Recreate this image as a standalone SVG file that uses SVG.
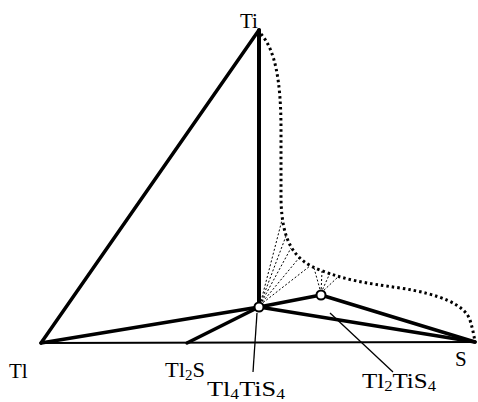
<svg xmlns="http://www.w3.org/2000/svg" width="478" height="402" viewBox="0 0 478 402">
<style>
.thick{stroke:#000;stroke-width:3.5;fill:none;stroke-linecap:round}
.base{stroke:#000;stroke-width:2;fill:none}
.dot{stroke:#000;stroke-width:3;fill:none;stroke-dasharray:2.5 3}
.fan{stroke:#000;stroke-width:1;fill:none;stroke-dasharray:2 2}
.ptr{stroke:#000;stroke-width:1.3;fill:none}
.lbl{font-family:"Liberation Serif","Times New Roman",serif;font-size:21px;fill:#000}
.pt{fill:#fff;stroke:#000;stroke-width:2}
</style>
<rect width="478" height="402" fill="#fff"/>
<g id="connectors">
<line class="base" x1="41" y1="343" x2="475" y2="342"/>
<line class="thick" x1="41" y1="343" x2="259" y2="30"/>
<line class="thick" x1="259" y1="30" x2="259" y2="307" style="stroke-width:4"/>
<line class="thick" x1="41" y1="343" x2="259" y2="307"/>
<line class="thick" x1="187" y1="343" x2="259" y2="307"/>
<line class="thick" x1="259" y1="307" x2="475" y2="342"/>
<line class="thick" x1="259" y1="307" x2="321" y2="295"/>
<line class="thick" x1="321" y1="295" x2="475" y2="342"/>
<path class="dot" d="M261,34 C275,50 281,80 281,130 L281,200 C282,240 293,260 320,270 C345,280 365,283 400,288 C440,294 465,305 470,320 C473,330 474,336 475,342"/>
<line class="fan" x1="260" y1="305" x2="282" y2="220"/>
<line class="fan" x1="260" y1="305" x2="286" y2="236"/>
<line class="fan" x1="260" y1="305" x2="291" y2="248"/>
<line class="fan" x1="260" y1="305" x2="299" y2="258"/>
<line class="fan" x1="260" y1="305" x2="310" y2="266"/>
<line class="fan" x1="321" y1="293" x2="314" y2="268"/>
<line class="fan" x1="321" y1="293" x2="322" y2="271"/>
<line class="fan" x1="321" y1="293" x2="330" y2="273"/>
<line class="fan" x1="321" y1="293" x2="339" y2="276"/>
<line class="ptr" x1="253" y1="372" x2="257" y2="313"/>
<line class="ptr" x1="393" y1="372" x2="330" y2="313"/>
</g>
<g id="Tl4TiS4-pt"><circle class="pt" cx="259" cy="307" r="4.5"/></g>
<g id="Tl2TiS4-pt"><circle class="pt" cx="321" cy="295" r="4.5"/></g>
<g id="Ti"><text class="lbl" x="240" y="28">Ti</text></g>
<g id="Tl"><text class="lbl" x="9" y="378">Tl</text></g>
<g id="S"><text class="lbl" x="455" y="366">S</text></g>
<g id="Tl2S"><text class="lbl" x="165" y="377" textLength="40" lengthAdjust="spacingAndGlyphs">Tl<tspan font-size="14" dy="3">2</tspan><tspan dy="-3">S</tspan></text></g>
<g id="Tl4TiS4"><text class="lbl" x="207" y="396" textLength="78" lengthAdjust="spacingAndGlyphs">Tl<tspan font-size="14" dy="3">4</tspan><tspan dy="-3">TiS</tspan><tspan font-size="14" dy="3">4</tspan></text></g>
<g id="Tl2TiS4"><text class="lbl" x="362" y="388" textLength="74" lengthAdjust="spacingAndGlyphs">Tl<tspan font-size="14" dy="3">2</tspan><tspan dy="-3">TiS</tspan><tspan font-size="14" dy="3">4</tspan></text></g>
</svg>
